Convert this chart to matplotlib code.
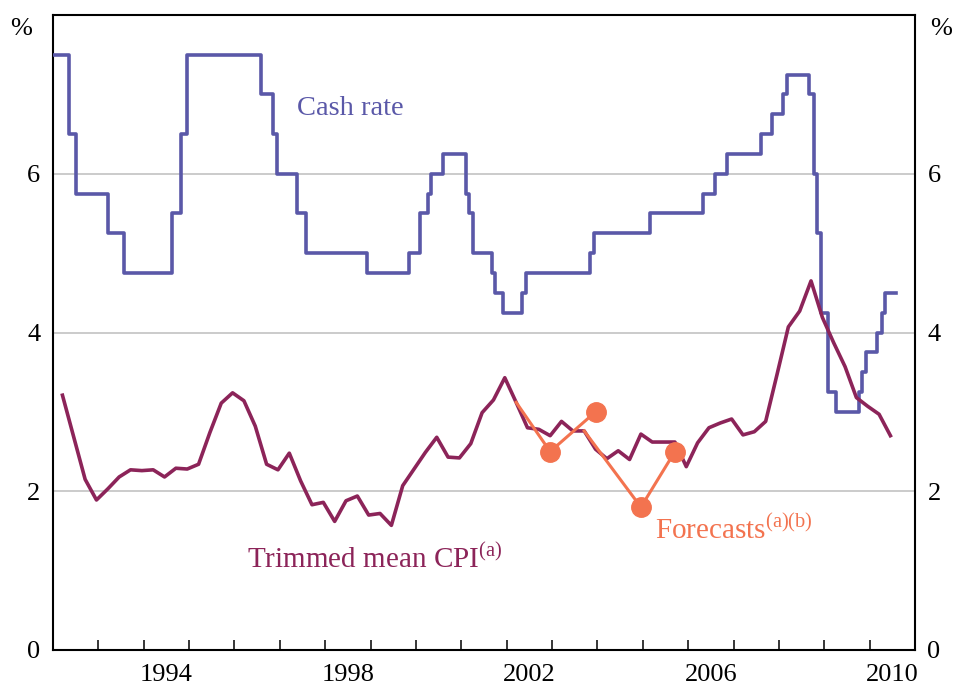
import datetime
import numpy as np
import matplotlib
matplotlib.use("Agg")
from matplotlib import pyplot as plt

plt.rcParams['font.family'] = ['Liberation Serif', 'DejaVu Serif']
plt.rcParams['mathtext.fontset'] = 'custom'
plt.rcParams['mathtext.rm'] = 'Liberation Serif'

# Cash rate target: date of each change and the new rate (%)
cash_dates = ['1992-01-01', '1992-05-06', '1992-07-08', '1993-03-23', '1993-07-30',
              '1994-08-17', '1994-10-24', '1994-12-14', '1996-07-31', '1996-11-06',
              '1996-12-11', '1997-05-23', '1997-07-30', '1998-12-02', '1999-11-03',
              '2000-02-02', '2000-04-05', '2000-05-03', '2000-08-02', '2001-02-07',
              '2001-03-07', '2001-04-04', '2001-09-05', '2001-10-03', '2001-12-05',
              '2002-05-08', '2002-06-05', '2003-11-05', '2003-12-03', '2005-03-02',
              '2006-05-03', '2006-08-02', '2006-11-08', '2007-08-08', '2007-11-07',
              '2008-02-06', '2008-03-05', '2008-09-03', '2008-10-08', '2008-11-05',
              '2008-12-03', '2009-02-04', '2009-04-08', '2009-10-07', '2009-11-04',
              '2009-12-02', '2010-03-03', '2010-04-07', '2010-05-05', '2010-07-31']
cash_rates = [7.5, 6.5, 5.75, 5.25, 4.75,
              5.5, 6.5, 7.5, 7.0, 6.5,
              6.0, 5.5, 5.0, 4.75, 5.0,
              5.5, 5.75, 6.0, 6.25, 5.75,
              5.5, 5.0, 4.75, 4.5, 4.25,
              4.5, 4.75, 5.0, 5.25, 5.5,
              5.75, 6.0, 6.25, 6.5, 6.75,
              7.0, 7.25, 7.0, 6.0, 5.25,
              4.25, 3.25, 3.0, 3.25, 3.5,
              3.75, 4.0, 4.25, 4.5, 4.5]

# Trimmed mean CPI, year-ended %, quarterly from March 1992 to June 2010
cpi_first_quarter = (1992, 1)
cpi_values = [3.21, 2.68, 2.15, 1.89, 2.03, 2.18, 2.27, 2.26,
              2.27, 2.18, 2.29, 2.28, 2.34, 2.74, 3.11, 3.24,
              3.14, 2.82, 2.34, 2.27, 2.48, 2.13, 1.83, 1.86,
              1.62, 1.88, 1.94, 1.70, 1.72, 1.57, 2.07, 2.28,
              2.49, 2.68, 2.43, 2.42, 2.60, 2.99, 3.15, 3.43,
              3.12, 2.80, 2.78, 2.70, 2.88, 2.76, 2.76, 2.53,
              2.41, 2.51, 2.40, 2.72, 2.62, 2.62, 2.62, 2.31,
              2.61, 2.80, 2.86, 2.91, 2.71, 2.75, 2.88, 3.47,
              4.07, 4.27, 4.65, 4.19, 3.87, 3.57, 3.18, 3.07,
              2.97, 2.70]

# Forecasts: (quarter-end month, value); first point is the actual outcome at the time
forecast1_dates = ['2002-03', '2002-12', '2003-12']
forecast1_values = [3.12, 2.5, 3.0]
forecast2_dates = ['2003-09', '2004-12', '2005-09']
forecast2_values = [2.76, 1.8, 2.5]

year_labels = ['1994', '1998', '2002', '2006', '2010']

CASH_COL = '#5a58a8'
CPI_COL = '#8c2459'
FC_COL = '#f3734f'


def day_to_year(s):
    d = datetime.date.fromisoformat(s)
    start = datetime.date(d.year, 1, 1)
    return d.year + (d - start).days / 365.25


def month_to_year(s):
    y, m = s.split('-')
    return int(y) + (int(m) - 0.5) / 12.0


cash_x = [day_to_year(s) for s in cash_dates]
y0, q0 = cpi_first_quarter
cpi_x = [y0 + (3 * (q0 + i) - 0.5) / 12.0 for i in range(len(cpi_values))]
fc1_x = [month_to_year(s) for s in forecast1_dates]
fc2_x = [month_to_year(s) for s in forecast2_dates]

fig = plt.figure(figsize=(9.54, 6.9), dpi=100)
ax = fig.add_axes([53 / 954, 40 / 690, 862 / 954, 635 / 690])

ax.set_xlim(1992, 2011)
ax.set_ylim(0, 8)

for g in [2, 4, 6]:
    ax.axhline(g, color='#bdbdbd', lw=1.1, zorder=1)

ax.step(cash_x, cash_rates, where='post', color=CASH_COL, lw=2.6, zorder=3)
ax.plot(cpi_x, cpi_values, color=CPI_COL, lw=2.6, zorder=3)
for fx, fv in [(fc1_x, forecast1_values), (fc2_x, forecast2_values)]:
    ax.plot(fx, fv, color=FC_COL, lw=2.2, zorder=4)
    ax.plot(fx[1:], fv[1:], 'o', color=FC_COL, ms=14, zorder=5)

# axes cosmetics
for sp in ax.spines.values():
    sp.set_linewidth(1.5)
ax.set_xticks(np.arange(1993, 2011))
ax.set_xticklabels([])
ax.set_xticks([int(y) + 0.5 for y in year_labels], minor=True)
ax.set_xticklabels(year_labels, minor=True, fontsize=19)
ax.tick_params(axis='x', which='major', direction='in', length=7.5, width=1.1)
ax.tick_params(axis='x', which='minor', length=0, pad=10)

ax.set_yticks([0, 2, 4, 6])
ax.set_yticklabels(['0', '2', '4', '6'], fontsize=19)
ax.tick_params(axis='y', length=0, pad=9, labelleft=True, labelright=True)
ax.text(-0.024, 7.82, '%', transform=ax.get_yaxis_transform(), ha='right',
        va='center', fontsize=19)
ax.text(1.018, 7.82, '%', transform=ax.get_yaxis_transform(), ha='left',
        va='center', fontsize=19)

# series labels
ax.text(1997.38, 6.74, 'Cash rate', color=CASH_COL, fontsize=20.5)
ax.text(1996.28, 1.03, r'Trimmed mean CPI$^{\mathrm{(a)}}$', color=CPI_COL, fontsize=21)
ax.text(2005.27, 1.4, r'Forecasts$^{\mathrm{(a)(b)}}$', color=FC_COL, fontsize=21)

fig.savefig('out.png', dpi=100)
